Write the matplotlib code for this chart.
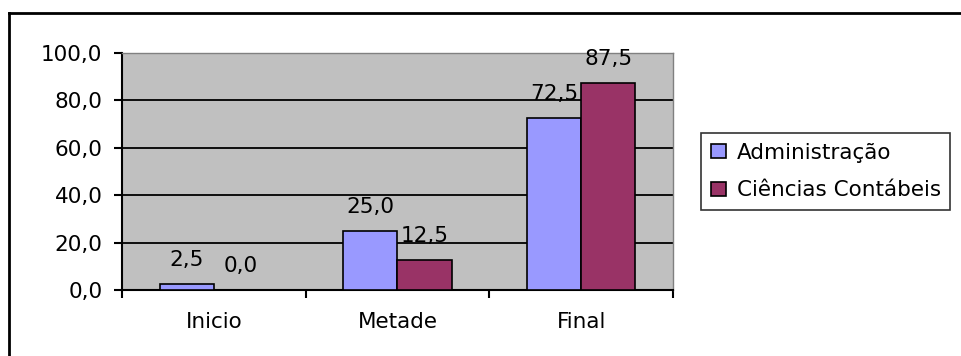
import numpy as np
import matplotlib
matplotlib.use("Agg")
from matplotlib import pyplot as plt
from matplotlib.lines import Line2D

plt.rcParams["font.family"] = ["DejaVu Sans"]

categories = ["Inicio", "Metade", "Final"]
series_names = ["Administração", "Ciências Contábeis"]
administracao = [2.5, 25.0, 72.5]
ciencias_contabeis = [0.0, 12.5, 87.5]
y_ticks = [0, 20, 40, 60, 80, 100]

colors = ["#9999FF", "#993366"]
fs = 15.5

fig = plt.figure(figsize=(9.62, 3.56), dpi=100)
ax = fig.add_axes([122 / 962, 66 / 356, 551 / 962, 237 / 356])
ax.set_facecolor("#C0C0C0")

x = np.arange(len(categories))
width = 0.295
values = [administracao, ciencias_contabeis]
for i, (name, vals) in enumerate(zip(series_names, values)):
    offs = (i - 0.5) * width
    # second series drawn on top of the first series' value labels
    z = 3 + 2 * i
    bars = ax.bar(x + offs, vals, width, color=colors[i], edgecolor="black",
                  linewidth=1.2, label=name, zorder=z)
    for rect, v in zip(bars, vals):
        ax.annotate(f"{v:.1f}".replace(".", ","),
                    (rect.get_x() + rect.get_width() / 2, rect.get_height()),
                    xytext=(0, 13), textcoords="offset points",
                    ha="center", va="baseline", fontsize=fs, zorder=z + 1)

ax.set_xlim(-0.5, len(categories) - 0.5)
ax.set_ylim(0, 100)
ax.set_yticks(y_ticks)
ax.set_yticklabels([f"{t:.1f}".replace(".", ",") for t in y_ticks], fontsize=fs)
ax.set_xticks(x)
ax.set_xticklabels(categories, fontsize=fs)
ax.xaxis.set_minor_locator(matplotlib.ticker.FixedLocator([-0.5, 0.5, 1.5, 2.5]))
ax.tick_params(axis="x", which="major", length=0, pad=16)
ax.tick_params(axis="x", which="minor", length=6, width=1.5, direction="out")
ax.tick_params(axis="y", length=6, width=1.5, direction="out", pad=8)

ax.yaxis.grid(True, color="black", linewidth=1.3, zorder=1)
ax.set_axisbelow(True)
for side in ("left", "bottom"):
    ax.spines[side].set_color("black")
    ax.spines[side].set_linewidth(1.5)
for side in ("top", "right"):
    ax.spines[side].set_color("#808080")
    ax.spines[side].set_linewidth(1.0)

leg = fig.legend(loc="upper left", bbox_to_anchor=(701 / 962, 1 - 133 / 356),
                 borderaxespad=0, fontsize=fs, frameon=True, fancybox=False,
                 edgecolor="black", handlelength=0.7, handleheight=0.6,
                 handletextpad=0.5, borderpad=0.45, labelspacing=0.82)
leg.get_frame().set_linewidth(1.2)

# outer chart-area border (top and left edges)
fig.add_artist(Line2D([9 / 962, 1], [1 - 13 / 356, 1 - 13 / 356],
                      color="black", linewidth=2, transform=fig.transFigure))
fig.add_artist(Line2D([9 / 962, 9 / 962], [0, 1 - 13 / 356],
                      color="black", linewidth=2, transform=fig.transFigure))

fig.savefig("out.png", dpi=100)
